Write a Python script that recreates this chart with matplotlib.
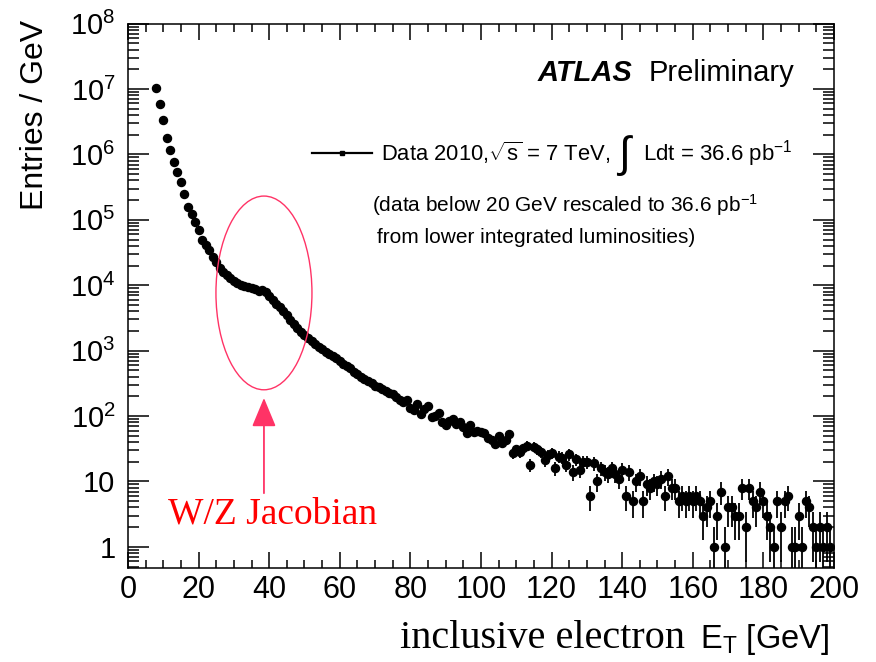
import matplotlib

matplotlib.use("Agg")
import matplotlib.pyplot as plt  # noqa: E402
import numpy as np  # noqa: E402
from matplotlib.patches import Ellipse  # noqa: E402
from matplotlib.ticker import FixedLocator, MultipleLocator, FuncFormatter  # noqa: E402

# inclusive electron E_T spectrum, 1 GeV bins starting at 8 GeV
et_first, et_last = 8, 199
entries = [
    1.02e7, 5.8e6, 3.4e6, 1.8e6, 1.15e6, 7.6e5, 5.4e5, 3.8e5, 2.5e5, 1.55e5,   # 8-17
    1.23e5, 9.1e4, 6.9e4, 5.0e4, 4.1e4, 3.4e4, 2.7e4, 22400, 18600, 15800,     # 18-27
    14100, 12900, 11700, 11000, 10200, 9800, 9330, 9120, 8700, 8300,           # 28-37
    8500, 7940, 6920, 6030, 5250, 4570, 4070, 3470, 2950, 2570,                # 38-47
    2240, 1950, 1740, 1550, 1410, 1260, 1150, 1050, 955, 891,                  # 48-57
    832, 759, 692, 631, 575, 537, 479, 437, 398, 372,                          # 58-67
    339, 316, 288, 275, 257, 240, 225, 216, 195, 178,                          # 68-77
    166, 174, 132, 123, 151, 107, 126, 141, 98, 100,                           # 78-87
    112, 81, 72, 85, 89, 76, 81, 68, 56, 72,                                   # 88-97
    58, 60, 58, 55, 47, 43, 37, 49, 39, 43,                                    # 98-107
    54, 27, 31, 28, 32, 35, 18, 34, 31, 28,                                    # 108-117
    21, 25, 27, 16, 24, 23, 18, 26, 14, 22,                                    # 118-127
    15, 20, 20, 6, 19, 10, 16, 14, 13, 16,                                     # 128-137
    13, 11, 15, 6, 14, 5, 10, 12, 5, 9,                                        # 138-147
    8, 10, 9, 11, 6, 12, 8, 8, 5, 6,                                           # 148-157
    5, 6, 5, 6, 5, 3, 4, 5, 1, 3,                                              # 158-167
    7, 1, 4, 4, 3, 3, 8, 2, 8, 5,                                              # 168-177
    4, 7, 5, 3, 2, 1, 5, 2, 5, 6,                                              # 178-187
    1, 1, 3, 1, 5, 4, 2, 1, 2, 1,                                              # 188-197
    2, 1,                                                                      # 198-199
]

x_ticks = [0, 20, 40, 60, 80, 100, 120, 140, 160, 180, 200]
y_ticks = [1, 10, 1e2, 1e3, 1e4, 1e5, 1e6, 1e7, 1e8]

et = np.arange(et_first, et_last + 1)
n = np.array(entries, dtype=float)
err = np.sqrt(n)

plt.rcParams["font.family"] = ["Liberation Sans", "DejaVu Sans"]
plt.rcParams["mathtext.fontset"] = "custom"
plt.rcParams["mathtext.rm"] = "Liberation Sans"
plt.rcParams["mathtext.it"] = "Liberation Sans:italic"
plt.rcParams["mathtext.bf"] = "Liberation Sans:bold"

fig = plt.figure(figsize=(8.76, 6.62), dpi=100)
ax = fig.add_axes([0.1461, 0.1424, 0.8059, 0.822])

ax.errorbar(et, n, yerr=err, xerr=0.5, fmt="o", ms=5.8, color="black",
            mec="black", elinewidth=1.3, capsize=0, zorder=3)

ax.set_yscale("log")
ax.set_xlim(0, 200)
ax.set_ylim(0.48, 1e8)

# ROOT style ticks: inside, on all four sides
ax.xaxis.set_major_locator(FixedLocator(x_ticks))
ax.xaxis.set_minor_locator(MultipleLocator(5))
ax.yaxis.set_major_locator(FixedLocator(y_ticks))


def _ylab(v, _pos):
    if v == 1:
        return "1"
    if v == 10:
        return "10"
    return r"$10^{%d}$" % round(np.log10(v))


ax.yaxis.set_major_formatter(FuncFormatter(_ylab))
ax.tick_params(which="both", direction="in", top=True, right=True, width=1.1)
ax.tick_params(axis="x", which="major", length=11.5, pad=5, labelsize=22)
ax.tick_params(axis="x", which="minor", length=5.8)
ax.tick_params(axis="y", which="major", length=15, pad=9, labelsize=21)
ax.tick_params(axis="y", which="minor", length=8)
for sp in ax.spines.values():
    sp.set_linewidth(1.1)

# labels
fig.text(0.04, 0.97, "Entries / GeV", rotation=90, ha="center", va="top", fontsize=23)
fig.text(0.4566, 0.0211, "inclusive electron", family="Liberation Serif",
         fontsize=29, ha="left", va="baseline")
fig.text(0.799, 0.0211, r"E$_{\mathregular{T}}$ [GeV]", fontsize=23.5,
         ha="left", va="baseline")

# ATLAS label
ax.text(0.7139, 0.909, "ATLAS", transform=ax.transAxes, fontsize=21,
        fontweight="bold", fontstyle="italic", ha="right", va="center")
ax.text(0.738, 0.909, "Preliminary", transform=ax.transAxes, fontsize=21,
        ha="left", va="center")

# legend, drawn by hand like ROOT
ax.plot([0.2606, 0.3456], [0.762, 0.762], transform=ax.transAxes,
        color="black", lw=1.6, clip_on=False)
ax.plot([0.3031], [0.762], transform=ax.transAxes, marker="s", ms=3,
        color="black", clip_on=False)
ax.text(0.3584, 0.762, r"Data 2010,$\sqrt{\mathregular{s}}$ = 7 TeV,",
        transform=ax.transAxes, fontsize=15.8, ha="left", va="center")
ax.text(0.7045, 0.757, r"$\int$", transform=ax.transAxes, fontsize=31,
        ha="center", va="center")
ax.text(0.7295, 0.762, r"Ldt = 36.6 pb$^{-1}$", transform=ax.transAxes,
        fontsize=16, ha="left", va="center")
ax.text(0.3456, 0.6665, r"(data below 20 GeV rescaled to 36.6 pb$^{-1}$",
        transform=ax.transAxes, fontsize=15, ha="left", va="center")
ax.text(0.3527, 0.6077, "from lower integrated luminosities)",
        transform=ax.transAxes, fontsize=15, ha="left", va="center")

# Jacobian peak annotation
ax.add_patch(Ellipse((0.1926, 0.505), 0.136, 0.356, transform=ax.transAxes,
                     fill=False, edgecolor="#ff3366", lw=1.0, zorder=4))
ax.annotate("", xy=(0.1926, 0.312), xytext=(0.1926, 0.137),
            xycoords="axes fraction", textcoords="axes fraction",
            arrowprops=dict(arrowstyle="-|>,head_length=1.8,head_width=0.75",
                            color="#ff3366", lw=1.3, shrinkA=0, shrinkB=0))
ax.text(0.0567, 0.082, "W/Z Jacobian", transform=ax.transAxes,
        family="Liberation Serif", fontsize=27, color="#ff0000",
        ha="left", va="baseline")

fig.savefig("out.png", dpi=100)
